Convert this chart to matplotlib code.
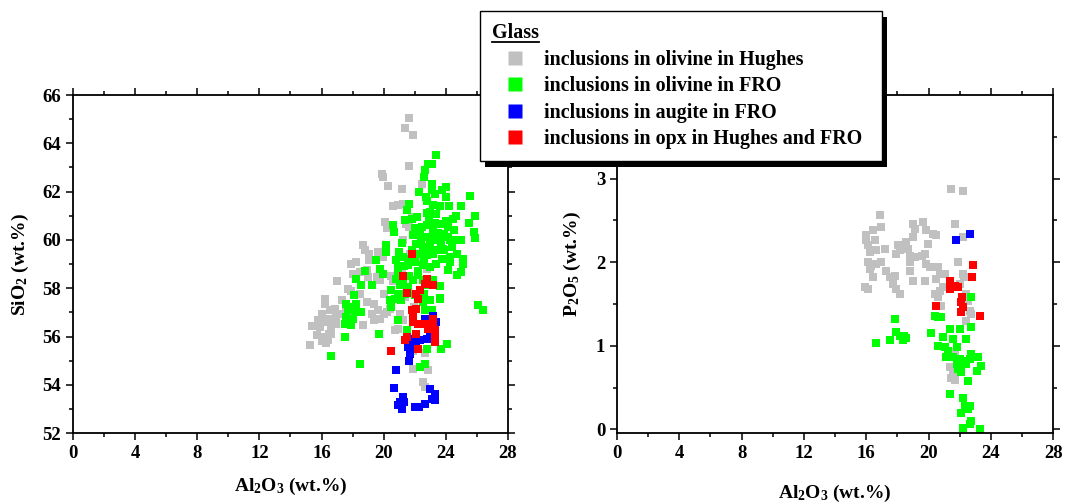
import matplotlib
matplotlib.use("Agg")
import matplotlib.pyplot as plt
from matplotlib.lines import Line2D
from matplotlib.ticker import MultipleLocator, FixedLocator
import matplotlib.patheffects as pe

plt.rcParams['font.family'] = ['Liberation Serif', 'DejaVu Serif']
plt.rcParams['font.weight'] = 'bold'
plt.rcParams['mathtext.fontset'] = 'custom'
plt.rcParams['mathtext.rm'] = 'Liberation Serif:bold'
plt.rcParams['mathtext.it'] = 'Liberation Serif:bold'
plt.rcParams['mathtext.bf'] = 'Liberation Serif:bold'

# ---- SiO2 vs Al2O3 panel ----
hughes_al2o3 = [21.65, 21.40, 21.90, 21.65, 19.90, 19.95, 20.30, 21.15, 22.45, 20.60,
                20.90, 21.25, 20.10, 20.20, 18.70, 18.80, 19.05, 19.05, 19.65, 19.95,
                17.90, 18.25, 18.05, 18.45, 17.00, 18.90, 19.00, 19.55, 19.75, 20.50,
                20.60, 17.70, 17.90, 18.45, 20.00, 17.30, 16.20, 16.25, 16.55, 16.85,
                17.05, 16.00, 16.20, 16.40, 15.90, 15.40, 15.70, 16.10, 15.25, 16.40,
                16.60, 16.75, 16.95, 17.70, 17.60, 18.70, 18.90, 19.35, 19.25, 19.65,
                19.75, 19.35, 20.00, 20.75, 20.95, 21.05, 21.25, 21.60, 21.90, 21.90,
                22.85, 22.55, 22.65, 22.65, 22.45, 22.80, 21.70, 21.25, 21.45, 21.65,
                21.80, 21.05, 21.15, 21.95, 21.40, 15.80, 16.00, 16.70, 16.90, 16.60,
                16.00, 16.30, 16.50, 20.20, 20.40]
hughes_sio2 = [65.06, 64.65, 64.33, 63.05, 62.74, 62.60, 62.25, 62.10, 62.30, 61.40,
               61.45, 61.50, 60.75, 60.50, 59.80, 59.57, 59.43, 59.15, 59.50, 59.30,
               59.00, 59.10, 58.60, 58.67, 58.28, 58.75, 58.46, 58.46, 58.32, 58.50,
               58.30, 57.98, 57.90, 57.77, 57.77, 57.50, 57.56, 57.33, 57.08, 57.15,
               56.94, 56.78, 56.60, 56.74, 56.40, 56.42, 56.05, 55.98, 55.66, 55.84,
               56.11, 56.53, 56.80, 56.87, 57.08, 56.46, 57.43, 57.36, 56.94, 57.08,
               56.74, 56.67, 56.94, 56.25, 56.32, 56.94, 56.67, 55.70, 55.42, 54.67,
               54.60, 54.10, 53.90, 55.30, 59.15, 58.80, 59.43, 59.98, 60.67, 60.53,
               60.95, 58.46, 58.74, 57.22, 57.63, 56.70, 56.95, 56.50, 56.50, 56.30,
               55.80, 55.75, 56.10, 57.00, 57.15]

fro_ol_al2o3 = [23.36, 22.83, 23.13, 22.65, 22.60, 22.30, 23.10, 23.10, 23.30, 24.00,
                23.75, 24.00, 25.55, 22.72, 22.77, 23.20, 23.60, 24.20, 24.98, 22.98,
                23.40, 21.65, 21.52, 21.37, 21.80, 22.16, 24.63, 24.48, 25.87, 25.50,
                20.60, 20.65, 22.45, 22.77, 23.20, 23.62, 24.16, 23.90, 22.33, 21.90,
                22.65, 23.20, 23.52, 24.16, 24.60, 25.00, 25.81, 25.87, 20.12, 20.12,
                21.15, 22.10, 22.55, 22.98, 23.40, 23.84, 24.40, 22.33, 22.77, 23.20,
                23.75, 24.28, 24.70, 25.08, 25.08, 24.70, 25.00, 24.16, 24.28, 21.00,
                21.25, 21.70, 20.82, 21.57, 22.00, 22.55, 23.40, 22.98, 19.75, 19.93,
                19.50, 18.79, 18.20, 18.57, 19.26, 20.93, 20.82, 21.05, 21.25, 21.90,
                21.57, 22.22, 22.55, 23.20, 23.62, 22.77, 20.50, 20.93, 20.70, 21.37,
                22.00, 22.60, 22.98, 23.62, 22.50, 20.40, 20.50, 18.08, 17.60, 17.90,
                18.25, 17.70, 18.14, 18.57, 17.60, 18.03, 17.50, 17.90, 20.93, 23.13,
                22.65, 17.50, 16.60, 18.47, 19.71, 21.48, 21.70, 22.77, 23.66, 24.05,
                22.33, 22.65, 26.37, 26.05, 23.62,
                22.00, 22.40, 22.90, 23.50, 23.90, 24.30, 21.80, 22.60, 23.30, 24.00,
                21.30, 22.20, 23.00, 23.70, 24.50, 21.60, 22.80, 23.40, 20.90, 21.10]
fro_ol_sio2 = [63.50, 63.16, 63.13, 62.90, 62.60, 62.00, 62.30, 62.05, 61.90, 62.20,
               62.05, 61.78, 61.80, 61.77, 61.60, 61.43, 61.39, 61.39, 61.39, 61.15,
               61.08, 61.47, 61.22, 60.81, 60.88, 60.95, 60.99, 60.88, 60.99, 60.70,
               60.60, 60.33, 60.53, 60.60, 60.46, 60.67, 60.53, 60.25, 60.25, 60.19,
               60.12, 60.12, 59.98, 60.12, 59.98, 59.98, 60.33, 60.09, 59.77, 59.50,
               59.87, 59.84, 59.70, 59.64, 59.57, 59.64, 59.70, 59.43, 59.36, 59.43,
               59.22, 59.29, 59.43, 59.22, 59.00, 58.53, 58.67, 58.74, 59.08, 59.50,
               59.29, 59.22, 59.15, 58.95, 59.08, 58.95, 59.01, 58.87, 58.80, 58.60,
               59.15, 58.71, 58.40, 58.12, 58.12, 58.60, 58.39, 58.12, 58.25, 58.32,
               58.05, 58.53, 58.32, 58.32, 58.08, 58.12, 57.91, 57.77, 57.56, 57.77,
               57.70, 57.77, 57.50, 57.59, 57.43, 57.50, 57.22, 57.70, 57.36, 57.22,
               57.36, 57.08, 57.00, 57.00, 56.80, 56.74, 56.53, 56.46, 56.70, 57.08,
               57.08, 55.98, 55.19, 54.87, 56.09, 56.28, 55.70, 55.48, 55.48, 55.70,
               54.73, 54.87, 57.08, 57.29, 57.56,
               60.50, 59.90, 60.90, 60.30, 59.60, 60.00, 59.60, 59.10, 60.70, 60.80,
               58.90, 58.70, 59.90, 59.90, 60.40, 58.50, 61.10, 60.00, 58.90, 57.50]

fro_aug_al2o3 = [20.79, 20.68, 21.05, 20.95, 21.27, 21.15, 21.30, 22.00, 22.27, 22.65,
                 23.10, 23.30, 23.00, 23.30, 21.68, 21.63, 21.57, 21.90, 22.37, 22.77,
                 22.65, 23.20, 23.40, 22.10, 23.00]
fro_aug_sio2 = [54.60, 53.88, 53.28, 53.15, 53.49, 53.00, 53.28, 53.07, 53.10, 53.20,
                53.42, 53.63, 53.84, 53.35, 55.28, 55.00, 55.56, 55.90, 55.84, 55.90,
                56.74, 56.87, 56.60, 55.56, 55.98]

opx_al2o3 = [21.80, 21.25, 22.77, 23.20, 22.65, 22.33, 22.10, 21.50, 22.20, 21.80,
             22.10, 21.90, 21.90, 22.20, 22.05, 21.37, 21.52, 22.20, 20.45, 22.86,
             23.20, 23.30, 23.20, 23.30, 23.30, 22.65]
opx_sio2 = [59.43, 58.49, 58.39, 58.12, 58.18, 57.91, 57.77, 57.81, 57.56, 57.08,
            57.15, 56.87, 56.60, 56.53, 56.12, 55.84, 55.98, 55.49, 55.38, 56.33,
            56.60, 56.25, 56.74, 55.98, 55.77, 56.53]

# ---- P2O5 vs Al2O3 panel ----
hughes_al2o3_p = [21.47, 22.22, 16.87, 16.92, 16.44, 16.01, 16.55, 16.01, 16.12, 16.23,
                  16.65, 16.12, 16.33, 16.65, 16.97, 17.19, 16.23, 16.44, 16.12, 15.90,
                  17.30, 17.50, 17.73, 17.94, 18.15, 17.83, 18.05, 18.15, 17.94, 18.58,
                  18.69, 19.01, 19.12, 19.01, 19.65, 19.12, 19.55, 18.79, 18.79, 19.87,
                  20.30, 20.51, 19.98, 19.76, 19.87, 20.09, 18.79, 19.01, 19.76, 20.62,
                  20.72, 20.51, 21.04, 20.72, 20.93, 20.62, 20.40, 21.69, 22.22, 21.90,
                  22.30, 22.20, 22.00, 22.43, 22.54, 22.65, 22.43, 22.75, 20.83, 21.69,
                  21.37, 21.47, 21.69, 21.90, 21.58]
hughes_p2o5 = [2.87, 2.85, 2.56, 2.42, 2.38, 2.32, 2.26, 2.26, 2.20, 2.12,
               2.14, 2.00, 1.96, 1.98, 2.00, 2.16, 1.92, 1.82, 1.68, 1.70,
               1.90, 1.82, 1.74, 1.68, 1.62, 1.84, 2.20, 2.14, 2.10, 2.24,
               2.16, 2.46, 2.40, 2.30, 2.48, 2.06, 2.08, 2.08, 2.00, 2.38,
               2.34, 2.32, 2.22, 2.10, 1.98, 1.94, 1.90, 1.78, 1.78, 1.94,
               1.86, 1.80, 1.86, 1.66, 1.70, 1.58, 1.62, 2.46, 2.30, 2.00,
               1.82, 1.86, 1.74, 1.62, 1.54, 1.42, 1.30, 1.38, 1.48, 0.93,
               0.75, 0.61, 0.59, 0.83, 0.66]

fro_ol_al2o3_p = [16.61, 17.51, 17.83, 17.89, 18.15, 18.37, 18.58, 18.43, 20.19, 20.40,
                  20.62, 20.83, 21.41, 22.05, 22.75, 22.75, 20.94, 21.58, 22.43, 20.62,
                  21.04, 21.26, 21.80, 21.15, 21.58, 22.00, 22.33, 22.75, 23.18, 21.80,
                  21.90, 22.10, 22.43, 22.65, 23.40, 23.10, 22.54, 21.40, 22.20, 22.32,
                  22.10, 22.54, 22.65, 22.20, 22.75, 22.65, 23.30]
fro_ol_p2o5 = [1.03, 1.07, 1.32, 1.16, 1.12, 1.07, 1.09, 1.12, 1.15, 1.36,
               1.34, 1.34, 1.20, 1.20, 1.58, 1.22, 1.10, 1.08, 1.08, 1.00,
               0.98, 0.94, 0.98, 0.86, 0.86, 0.84, 0.82, 0.90, 0.86, 0.78,
               0.72, 0.68, 0.78, 0.84, 0.76, 0.70, 0.58, 0.42, 0.38, 0.28,
               0.20, 0.24, 0.28, 0.02, 0.10, 0.06, 0.00]

fro_aug_al2o3_p = [21.79, 22.65]
fro_aug_p2o5 = [2.27, 2.34]

opx_al2o3_p = [21.41, 21.37, 21.69, 21.90, 22.86, 22.80, 20.51, 22.18, 22.10, 22.20,
               22.10, 23.33]
opx_p2o5 = [1.78, 1.68, 1.72, 1.70, 1.97, 1.82, 1.48, 1.58, 1.52, 1.46,
            1.40, 1.36]

labels = ['inclusions in olivine in Hughes', 'inclusions in olivine in FRO',
          'inclusions in augite in FRO', 'inclusions in opx in Hughes and FRO']
colors = ['#C0C0C0', '#00FF00', '#0000FF', '#FF0000']
sizes = [28, 28, 40, 40]

fig = plt.figure(figsize=(10.78, 5.03), dpi=100)
ax1 = fig.add_axes([0.0677, 0.139, 0.4035, 0.672])
ax2 = fig.add_axes([0.5724, 0.139, 0.4045, 0.672])

left_sets = [(hughes_al2o3, hughes_sio2), (fro_ol_al2o3, fro_ol_sio2),
             (fro_aug_al2o3, fro_aug_sio2), (opx_al2o3, opx_sio2)]
right_sets = [(hughes_al2o3_p, hughes_p2o5), (fro_ol_al2o3_p, fro_ol_p2o5),
              (fro_aug_al2o3_p, fro_aug_p2o5), (opx_al2o3_p, opx_p2o5)]

for ax, sets in [(ax1, left_sets), (ax2, right_sets)]:
    for (x, y), c, s in zip(sets, colors, sizes):
        ax.scatter(x, y, s=s, marker='s', color=c, linewidths=0, clip_on=False)

ax1.set_ylim(52, 66)
ax1.yaxis.set_major_locator(MultipleLocator(2))
ax1.yaxis.set_minor_locator(MultipleLocator(1))
ax2.set_ylim(-0.045, 4.0)
ax2.yaxis.set_major_locator(FixedLocator([0, 1, 2, 3]))
ax2.yaxis.set_minor_locator(FixedLocator([0.5, 1.5, 2.5, 3.5]))

# axes style: outward ticks left/bottom, inward ticks top/right
for ax in (ax1, ax2):
    ax.set_xlim(0, 28)
    ax.xaxis.set_major_locator(MultipleLocator(4))
    ax.xaxis.set_minor_locator(MultipleLocator(2))
    for sp in ax.spines.values():
        sp.set_linewidth(1.3)
    ax.tick_params(which='both', direction='out', top=True, right=True,
                   labeltop=False, labelright=False, labelsize=13.5, width=1.1)
    ax.tick_params(which='major', length=5)
    ax.tick_params(which='minor', length=3)
    for t in ax.xaxis.get_ticklines(minor=False)[1::2] + ax.xaxis.get_ticklines(minor=True)[1::2]:
        t.set_marker(2)
    for t in ax.yaxis.get_ticklines(minor=False)[1::2] + ax.yaxis.get_ticklines(minor=True)[1::2]:
        t.set_marker(1)
    for lab in ax.get_xticklabels() + ax.get_yticklabels():
        lab.set_fontweight('bold')

ax1.set_xlabel('Al$_2$O$_3$ (wt.%)', fontsize=14, fontweight='bold')
ax1.set_ylabel('SiO$_2$ (wt.%)', fontsize=14, fontweight='bold')
ax2.set_xlabel('Al$_2$O$_3$ (wt.%)', fontsize=14, fontweight='bold')
ax2.set_ylabel('P$_2$O$_5$ (wt.%)', fontsize=14, fontweight='bold')
ax1.xaxis.set_label_coords(0.5, -0.128)
ax2.xaxis.set_label_coords(0.5, -0.146)
ax1.yaxis.set_label_coords(-0.097, 0.5)
ax2.yaxis.set_label_coords(-0.078, 0.5)

# legend
handles = [Line2D([], [], marker='s', linestyle='none', markersize=10,
                  markerfacecolor=c, markeredgecolor='none') for c in colors]
leg = fig.legend(handles, labels, title='Glass', loc='upper left',
                 bbox_to_anchor=(0.445, 0.684, 0.373, 0.294), mode='expand',
                 borderaxespad=0, prop={'size': 14.4, 'weight': 'bold'},
                 title_fontproperties={'size': 14.4, 'weight': 'bold'},
                 alignment='left', fancybox=False, framealpha=1,
                 edgecolor='black', handlelength=2.3, handletextpad=0.3,
                 labelspacing=0.33, borderpad=0.6)
leg.get_frame().set_linewidth(1.0)
leg.get_frame().set_path_effects([
    pe.SimplePatchShadow(offset=(4, -4), shadow_rgbFace='black', alpha=1.0),
    pe.Normal()])

# underline the legend title
fig.canvas.draw()
bb = leg.get_title().get_window_extent()
inv = fig.transFigure.inverted()
(x0, y0), (x1, _) = inv.transform([(bb.x0, bb.y0 + 1), (bb.x1, bb.y0)])
fig.add_artist(Line2D([x0, x1], [y0, y0], color='black', linewidth=1.3,
                      transform=fig.transFigure, zorder=10))

fig.savefig('out.png', dpi=100)
